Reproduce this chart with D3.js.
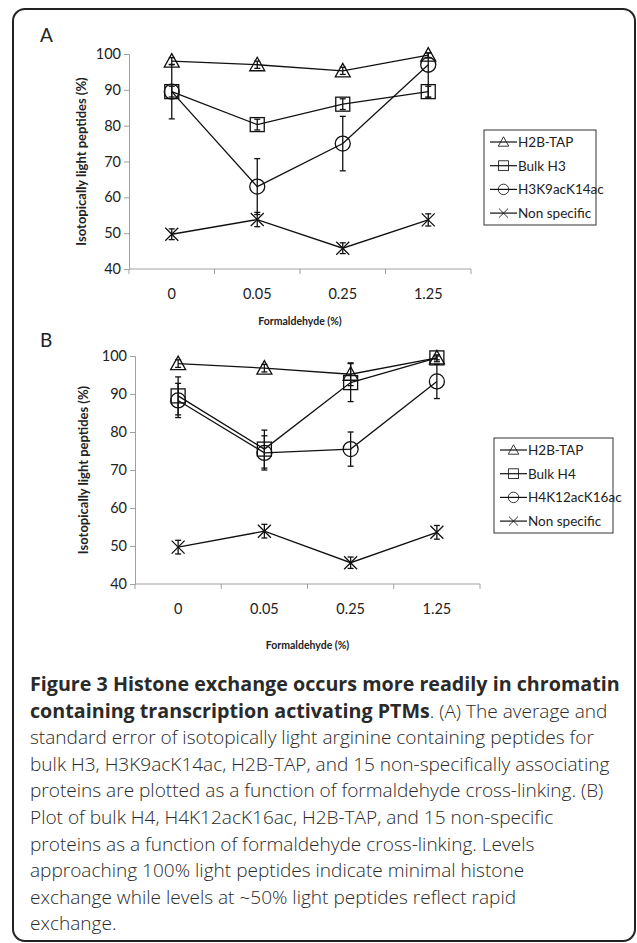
<!DOCTYPE html>
<html>
<head>
<meta charset="utf-8">
<script src="https://cdn.jsdelivr.net/npm/d3@7"></script>
<style>
  body { margin: 0; background: #fff; }
  svg { display: block; }
  .chart text { font-family: Lato, "Open Sans", sans-serif; fill: #222; }
  .caption text { font-family: "Open Sans", sans-serif; fill: #2a2a2a; }
</style>
</head>
<body>
<svg id="fig" width="637" height="943"></svg>
<script>
// x categories (formaldehyde %)
var doses = ['0', '0.05', '0.25', '1.25'];
var yTicks = [40, 50, 60, 70, 80, 90, 100];

// panel A
var namesA = ['H2B-TAP', 'Bulk H3', 'H3K9acK14ac', 'Non specific'];
var h2bA = [98, 97, 95.3, 99.7];
var h2bErrA = [1, 1, 1, 0.8];
var bulkH3 = [89.5, 80.3, 86, 89.5];
var bulkH3Err = [1.5, 1.5, 1.5, 1.5];
var h3ac = [89.5, 63, 75, 97];
var h3acErr = [7.6, 7.8, 7.6, 9.3];
var nonA = [49.7, 53.8, 45.8, 53.7];
var nonErrA = [1.5, 2, 1.5, 1.7];

// panel B
var namesB = ['H2B-TAP', 'Bulk H4', 'H4K12acK16ac', 'Non specific'];
var h2bB = [98, 96.8, 95.2, 99.5];
var h2bErrB = [1, 1, 3, 0.5];
var bulkH4 = [89.5, 75.5, 93, 99.5];
var bulkH4Err = [5, 5, 5, 1];
var h4ac = [88.3, 74.5, 75.5, 93.3];
var h4acErr = [4.5, 4.5, 4.5, 4.5];
var nonB = [49.7, 53.9, 45.6, 53.6];
var nonErrB = [1.8, 1.8, 1.5, 1.8];

var shapes = ['triangle', 'square', 'circle', 'cross'];

var captionBold = [
  'Figure 3 Histone exchange occurs more readily in chromatin',
  'containing transcription activating PTMs'
];
var captionRest = [
  '. (A) The average and',
  'standard error of isotopically light arginine containing peptides for',
  'bulk H3, H3K9acK14ac, H2B-TAP, and 15 non-specifically associating',
  'proteins are plotted as a function of formaldehyde cross-linking. (B)',
  'Plot of bulk H4, H4K12acK16ac, H2B-TAP, and 15 non-specific',
  'proteins as a function of formaldehyde cross-linking. Levels',
  'approaching 100% light peptides indicate minimal histone',
  'exchange while levels at ~50% light peptides reflect rapid',
  'exchange.'
];

var svg = d3.select('#fig');

// outer frame
svg.append('rect')
  .attr('x', 13).attr('y', 9)
  .attr('width', 622).attr('height', 932)
  .attr('rx', 12)
  .attr('fill', 'none')
  .attr('stroke', '#222')
  .attr('stroke-width', 2);

function marker(g, shape, cx, cy) {
  if (shape == 'triangle') {
    g.append('path')
      .attr('d', 'M' + cx + ',' + (cy - 7.5) + 'L' + (cx + 7.5) + ',' + (cy + 6) + 'L' + (cx - 7.5) + ',' + (cy + 6) + 'Z');
  } else if (shape == 'square') {
    g.append('rect').attr('x', cx - 7).attr('y', cy - 7).attr('width', 14).attr('height', 14);
  } else if (shape == 'circle') {
    g.append('circle').attr('cx', cx).attr('cy', cy).attr('r', 7.5);
  } else {
    g.append('path')
      .attr('d', 'M' + (cx - 6.5) + ',' + (cy - 6.5) + 'L' + (cx + 6.5) + ',' + (cy + 6.5) + 'M' + (cx + 6.5) + ',' + (cy - 6.5) + 'L' + (cx - 6.5) + ',' + (cy + 6.5));
  }
}

function panel(opts) {
  var g = svg.append('g').attr('class', 'chart');
  var x = d3.scaleBand().domain(doses).range([opts.x0, opts.x1]);
  var y = d3.scaleLinear().domain([40, 100]).range([opts.y0, opts.y1]);

  // y axis
  var yAxis = d3.axisLeft(y).tickValues(yTicks).tickSize(5).tickPadding(3);
  var ya = g.append('g').attr('transform', 'translate(' + opts.x0 + ',0)').call(yAxis);
  ya.select('.domain').attr('stroke', '#a0a0a0');
  ya.selectAll('.tick line').attr('stroke', '#a0a0a0');
  ya.selectAll('.tick text').style('font-size', '14.5px').attr('fill', '#222');

  // x axis: ticks at band edges
  var xa = g.append('g').attr('transform', 'translate(0,' + opts.y0 + ')');
  xa.append('line').attr('x1', opts.x0).attr('x2', opts.x1).attr('stroke', '#a0a0a0');
  var edges = doses.map(function(d) { return x(d); }).concat([opts.x1]);
  xa.selectAll('.xt').data(edges).enter().append('line')
    .attr('x1', function(d) { return d; }).attr('x2', function(d) { return d; })
    .attr('y1', 0).attr('y2', 5).attr('stroke', '#a0a0a0');
  xa.selectAll('.xl').data(doses).enter().append('text')
    .attr('x', function(d) { return x(d) + x.bandwidth() / 2; })
    .attr('y', 30)
    .attr('text-anchor', 'middle')
    .style('font-size', '14.5px')
    .text(function(d) { return d; });

  g.append('text')
    .attr('x', (opts.x0 + opts.x1) / 2).attr('y', opts.xTitleY)
    .attr('text-anchor', 'middle')
    .style('font-size', '10.5px').style('font-weight', 'bold')
    .text('Formaldehyde (%)');

  g.append('text')
    .attr('transform', 'translate(' + opts.yTitleX + ',' + ((opts.y0 + opts.y1) / 2) + ') rotate(-90)')
    .attr('text-anchor', 'middle')
    .style('font-size', '13px').style('font-weight', 'bold')
    .text('Isotopically light peptides (%)');

  g.append('text')
    .attr('x', opts.labelX).attr('y', opts.labelY)
    .style('font-size', '19px')
    .text(opts.label);

  var cx = function(i) { return x(doses[i]) + x.bandwidth() / 2; };
  var line = d3.line().x(function(d, i) { return cx(i); }).y(function(d) { return y(d); });

  opts.series.forEach(function(s, k) {
    var sg = g.append('g').attr('fill', 'none').attr('stroke', '#111').attr('stroke-width', 1.3);
    sg.append('path').attr('d', line(s.v));
    s.v.forEach(function(v, i) {
      var top = y(Math.min(v + s.e[i], 100.3));
      var bot = y(v - s.e[i]);
      sg.append('line').attr('x1', cx(i)).attr('x2', cx(i)).attr('y1', top).attr('y2', bot);
      sg.append('line').attr('x1', cx(i) - 3).attr('x2', cx(i) + 3).attr('y1', top).attr('y2', top);
      sg.append('line').attr('x1', cx(i) - 3).attr('x2', cx(i) + 3).attr('y1', bot).attr('y2', bot);
      marker(sg, shapes[k], cx(i), y(v));
    });
  });

  // legend
  var lg = g.append('g');
  lg.append('rect')
    .attr('x', opts.legX).attr('y', opts.legY)
    .attr('width', opts.legW).attr('height', 95)
    .attr('fill', 'none').attr('stroke', '#333').attr('stroke-width', 1);
  opts.names.forEach(function(n, k) {
    var ly = opts.legY + 12 + k * 23.7;
    var eg = lg.append('g').attr('fill', 'none').attr('stroke', '#111').attr('stroke-width', 1.2);
    eg.append('line').attr('x1', opts.legX + 6).attr('x2', opts.legX + 33).attr('y1', ly).attr('y2', ly);
    var mg = eg.append('g').attr('transform', 'translate(' + (opts.legX + 19.5) + ',' + ly + ') scale(0.7)');
    marker(mg, shapes[k], 0, 0);
    lg.append('text')
      .attr('x', opts.legX + 34).attr('y', ly + 4.8)
      .style('font-size', '13.5px')
      .text(n);
  });
}

panel({
  label: 'A', labelX: 40, labelY: 42,
  x0: 129, x1: 471, y0: 269, y1: 54,
  xTitleY: 325, yTitleX: 86,
  legX: 484, legY: 130, legW: 112,
  names: namesA,
  series: [
    { v: h2bA, e: h2bErrA },
    { v: bulkH3, e: bulkH3Err },
    { v: h3ac, e: h3acErr },
    { v: nonA, e: nonErrA }
  ]
});

panel({
  label: 'B', labelX: 40, labelY: 347,
  x0: 135, x1: 480, y0: 584, y1: 356,
  xTitleY: 649, yTitleX: 88,
  legX: 494, legY: 438, legW: 119,
  names: namesB,
  series: [
    { v: h2bB, e: h2bErrB },
    { v: bulkH4, e: bulkH4Err },
    { v: h4ac, e: h4acErr },
    { v: nonB, e: nonErrB }
  ]
});

// caption: font sizes fitted so the widest lines match the reference widths
var cap = svg.append('g').attr('class', 'caption');
var capY = d3.range(10).map(function(i) { return 691 + i * 26.6; });

function fitSize(str, weight, target) {
  var t = cap.append('text').style('font-size', '20px').style('font-weight', weight).text(str);
  var w = t.node().getComputedTextLength();
  t.remove();
  return 20 * target / w;
}
var boldSize = fitSize(captionBold[0], 'bold', 590);
var lightSize = fitSize(captionRest[2], '300', 580);

cap.append('text')
  .attr('x', 30).attr('y', capY[0])
  .style('font-size', boldSize + 'px').style('font-weight', 'bold')
  .text(captionBold[0]);
var l2 = cap.append('text').attr('x', 30).attr('y', capY[1]);
l2.append('tspan').style('font-size', boldSize + 'px').style('font-weight', 'bold').text(captionBold[1]);
l2.append('tspan').style('font-size', lightSize + 'px').style('font-weight', '300').text(captionRest[0]);
captionRest.slice(1).forEach(function(t, i) {
  cap.append('text')
    .attr('x', 30).attr('y', capY[i + 2])
    .style('font-size', lightSize + 'px').style('font-weight', '300')
    .text(t);
});
</script>
</body>
</html>
